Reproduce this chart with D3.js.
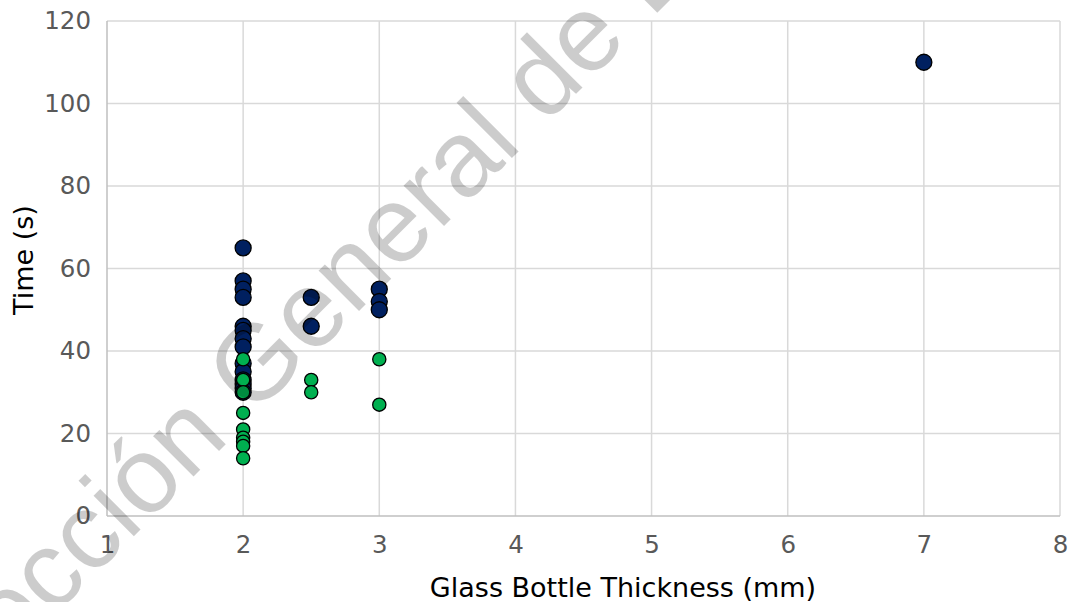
<!DOCTYPE html>
<html>
<head>
<meta charset="utf-8">
<script src="https://cdn.jsdelivr.net/npm/d3@7"></script>
<style>
  body { margin: 0; background: #fff; }
  svg { display: block; font-family: "DejaVu Sans", sans-serif; }
</style>
</head>
<body>
<div id="chart"></div>
<script>
// data
var blueX = [2, 2, 2, 2, 2, 2, 2, 2, 2, 2, 2, 2, 2, 2, 2.5, 2.5, 3, 3, 3, 7];
var blueY = [65, 57, 55, 53, 46, 45, 43, 41, 37, 35, 33, 32, 31, 30, 53, 46, 55, 52, 50, 110];
var greenX = [2, 2, 2, 2, 2, 2, 2, 2, 2, 2.5, 2.5, 3, 3];
var greenY = [38, 33, 30, 25, 21, 19, 18, 17, 14, 33, 30, 38, 27];
var xTicks = [1, 2, 3, 4, 5, 6, 7, 8];
var yTicks = [0, 20, 40, 60, 80, 100, 120];

var margin = {top: 21, right: 12, bottom: 86, left: 107},
    width = 1072 - margin.left - margin.right,
    height = 602 - margin.top - margin.bottom;

var svg = d3.select("#chart")
  .append("svg")
    .attr("width", 1072)
    .attr("height", 602);

var g = svg.append("g")
    .attr("transform", "translate(" + margin.left + "," + margin.top + ")");

var x = d3.scaleLinear().domain([1, 8]).range([0, width]);
var y = d3.scaleLinear().domain([0, 120]).range([height, 0]);

// gridlines
g.append("g").selectAll("line")
  .data(xTicks.slice(1))
  .enter().append("line")
    .attr("x1", d => x(d)).attr("x2", d => x(d))
    .attr("y1", 0).attr("y2", height)
    .attr("stroke", "#d9d9d9").attr("stroke-width", 1.5);

g.append("g").selectAll("line")
  .data(yTicks.slice(1))
  .enter().append("line")
    .attr("x1", 0).attr("x2", width)
    .attr("y1", d => y(d)).attr("y2", d => y(d))
    .attr("stroke", "#d9d9d9").attr("stroke-width", 1.5);

// axis lines
g.append("line")
  .attr("x1", 0).attr("x2", 0).attr("y1", 0).attr("y2", height)
  .attr("stroke", "#bfbfbf").attr("stroke-width", 1.5);
g.append("line")
  .attr("x1", 0).attr("x2", width).attr("y1", height).attr("y2", height)
  .attr("stroke", "#bfbfbf").attr("stroke-width", 1.5);

// tick labels
var xAxis = d3.axisBottom(x).tickValues(xTicks).tickFormat(d3.format("d")).tickSize(0).tickPadding(20);
g.append("g")
  .attr("transform", "translate(0," + height + ")")
  .call(xAxis)
  .call(a => a.select(".domain").remove())
  .selectAll("text")
    .style("font-size", "24.5px")
    .style("font-family", "DejaVu Sans, sans-serif")
    .attr("fill", "#595959");

var yAxis = d3.axisLeft(y).tickValues(yTicks).tickSize(0).tickPadding(16);
g.append("g")
  .call(yAxis)
  .call(a => a.select(".domain").remove())
  .selectAll("text")
    .style("font-size", "24.5px")
    .style("font-family", "DejaVu Sans, sans-serif")
    .attr("fill", "#595959");

// axis titles
svg.append("text")
  .attr("x", 623)
  .attr("y", 597)
  .attr("text-anchor", "middle")
  .style("font-size", "27px")
  .attr("fill", "#000")
  .text("Glass Bottle Thickness (mm)");

svg.append("text")
  .attr("transform", "translate(33," + 260 + ") rotate(-90)")
  .attr("text-anchor", "middle")
  .style("font-size", "27px")
  .attr("fill", "#000")
  .text("Time (s)");

// points
var blue = blueX.map((d, i) => ({x: d, y: blueY[i]}));
var green = greenX.map((d, i) => ({x: d, y: greenY[i]}));

g.append("g").selectAll("circle")
  .data(blue)
  .enter().append("circle")
    .attr("cx", d => x(d.x))
    .attr("cy", d => y(d.y))
    .attr("r", 8)
    .attr("fill", "#002060")
    .attr("stroke", "#000")
    .attr("stroke-width", 1.3);

g.append("g").selectAll("circle")
  .data(green)
  .enter().append("circle")
    .attr("cx", d => x(d.x))
    .attr("cy", d => y(d.y))
    .attr("r", 6.6)
    .attr("fill", "#00b050")
    .attr("stroke", "#000")
    .attr("stroke-width", 1.3);

// watermark, "General" starts near (252,418)
var wm = svg.append("text")
  .attr("transform", "translate(252,418) rotate(-45)")
  .style("font-family", "Liberation Sans, Arial, sans-serif")
  .style("font-size", "108px")
  .attr("fill", "#000")
  .attr("fill-opacity", 0.2)
  .text("Dirección General de Bibliotecas");
wm.attr("x", -wm.node().getSubStringLength(0, 10));
</script>
</body>
</html>
